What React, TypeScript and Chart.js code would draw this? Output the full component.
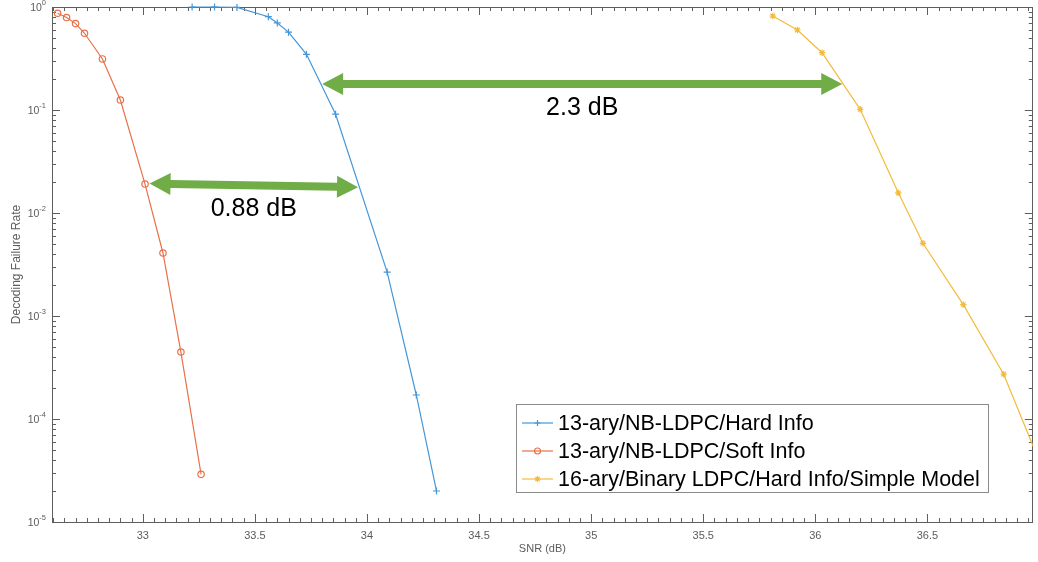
import React, { useEffect, useRef } from 'react';
import { Chart, registerables } from 'chart.js';

Chart.register(...registerables);

// ---- data ----
const seriesLabels = [
  '13-ary/NB-LDPC/Hard Info',
  '13-ary/NB-LDPC/Soft Info',
  '16-ary/Binary LDPC/Hard Info/Simple Model',
];
const hardSnr = [33.22, 33.32, 33.42, 33.56, 33.6, 33.65, 33.73, 33.86, 34.09, 34.22, 34.31];
const hardRate = [1.0, 1.0, 0.99, 0.805, 0.7, 0.57, 0.347, 0.091, 0.00267, 0.000171, 0.00002];
const softSnr = [32.62, 32.66, 32.7, 32.74, 32.82, 32.9, 33.01, 33.09, 33.17, 33.26];
const softRate = [0.87, 0.79, 0.69, 0.556, 0.313, 0.125, 0.0191, 0.00409, 0.000447, 0.000029];
const binSnr = [35.81, 35.92, 36.03, 36.2, 36.37, 36.48, 36.66, 36.84, 37.02];
const binRate = [0.818, 0.598, 0.36, 0.1016, 0.0157, 0.00508, 0.00129, 0.000272, 0.00003];

const xTickValues = [33, 33.5, 34, 34.5, 35, 35.5, 36, 36.5];
const xTickLabels = ['33', '33.5', '34', '34.5', '35', '35.5', '36', '36.5'];
const yTickExponents = [0, -1, -2, -3, -4, -5];
const xMinorStep = 0.05;
const xRange = [32.595, 36.97];
const yRange = [1e-5, 1];

const xTitle = 'SNR (dB)';
const yTitle = 'Decoding Failure Rate';

// gap annotations (in data units)
const gapSnrFrom = [33.8, 33.03];
const gapSnrTo = [36.12, 33.96];
const gapRateFrom = [0.179, 0.0193];
const gapRateTo = [0.179, 0.0178];
const gapLabels = ['2.3 dB', '0.88 dB'];

const seriesColors = ['#4596d8', '#e8714a', '#f3bb3c'];
const seriesMarkers = ['cross', 'circle', 'star'];

const AXIS_COLOR = '#5e5e5e';
const LABEL_COLOR = '#5c5c5c';
const ARROW_COLOR = '#70AD47';
const FONT = '"Liberation Sans", Arial, Helvetica, sans-serif';

function drawMarker(ctx: CanvasRenderingContext2D, style: string, x: number, y: number, r: number, color: string) {
  ctx.save();
  ctx.strokeStyle = color;
  ctx.lineWidth = 1.2;
  ctx.beginPath();
  if (style === 'cross') {
    ctx.moveTo(x - r, y); ctx.lineTo(x + r, y);
    ctx.moveTo(x, y - r); ctx.lineTo(x, y + r);
  } else if (style === 'circle') {
    ctx.arc(x, y, r, 0, Math.PI * 2);
  } else {
    const d = r * 0.707;
    ctx.moveTo(x - r, y); ctx.lineTo(x + r, y);
    ctx.moveTo(x, y - r); ctx.lineTo(x, y + r);
    ctx.moveTo(x - d, y - d); ctx.lineTo(x + d, y + d);
    ctx.moveTo(x - d, y + d); ctx.lineTo(x + d, y - d);
  }
  ctx.stroke();
  ctx.restore();
}

function drawDoubleArrow(ctx: CanvasRenderingContext2D, x1: number, y1: number, x2: number, y2: number) {
  const dx = x2 - x1, dy = y2 - y1;
  const len = Math.hypot(dx, dy);
  const ux = dx / len, uy = dy / len;
  const nx = -uy, ny = ux;
  const head = 21, hw = 11, sw = 4;
  const pts: [number, number][] = [
    [x1, y1],
    [x1 + ux * head + nx * hw, y1 + uy * head + ny * hw],
    [x1 + ux * head + nx * sw, y1 + uy * head + ny * sw],
    [x2 - ux * head + nx * sw, y2 - uy * head + ny * sw],
    [x2 - ux * head + nx * hw, y2 - uy * head + ny * hw],
    [x2, y2],
    [x2 - ux * head - nx * hw, y2 - uy * head - ny * hw],
    [x2 - ux * head - nx * sw, y2 - uy * head - ny * sw],
    [x1 + ux * head - nx * sw, y1 + uy * head - ny * sw],
    [x1 + ux * head - nx * hw, y1 + uy * head - ny * hw],
  ];
  ctx.save();
  ctx.fillStyle = ARROW_COLOR;
  ctx.beginPath();
  pts.forEach(([px, py], i) => (i === 0 ? ctx.moveTo(px, py) : ctx.lineTo(px, py)));
  ctx.closePath();
  ctx.fill();
  ctx.restore();
}

const axesPlugin = {
  id: 'matlabAxes',
  beforeDatasetsDraw(chart: any) {
    const { ctx, chartArea } = chart;
    const { left, right, top, bottom } = chartArea;
    const xs = chart.scales.x;
    const ys = chart.scales.y;
    ctx.save();
    ctx.strokeStyle = AXIS_COLOR;
    ctx.lineWidth = 1;
    // box
    ctx.strokeRect(Math.round(left) + 0.5, Math.round(top) + 0.5, Math.round(right - left) - 1, Math.round(bottom - top));
    ctx.beginPath();
    const majorLen = 8, minorLen = 4;
    // x ticks
    const nMinor = Math.round((xRange[1] - xRange[0]) / xMinorStep) + 2;
    const start = Math.ceil(xRange[0] / xMinorStep) * xMinorStep;
    for (let i = 0; i < nMinor; i++) {
      const v = +(start + i * xMinorStep).toFixed(4);
      if (v > xRange[1]) break;
      const isMajor = Math.abs(v * 2 - Math.round(v * 2)) < 1e-6;
      const L = isMajor ? majorLen : minorLen;
      const px = Math.round(xs.getPixelForValue(v)) + 0.5;
      ctx.moveTo(px, bottom); ctx.lineTo(px, bottom - L);
      ctx.moveTo(px, top); ctx.lineTo(px, top + L);
    }
    // y ticks
    for (let e = 0; e >= -5; e--) {
      for (let m = 1; m <= 9; m++) {
        const v = m * Math.pow(10, e - 1);
        if (v < yRange[0] - 1e-12 || v > yRange[1] + 1e-12) continue;
        const L = m === 1 ? majorLen : minorLen;
        const py = Math.round(ys.getPixelForValue(v)) + 0.5;
        ctx.moveTo(left, py); ctx.lineTo(left + L, py);
        ctx.moveTo(right, py); ctx.lineTo(right - L, py);
      }
    }
    const p0 = Math.round(ys.getPixelForValue(1)) + 0.5;
    ctx.moveTo(left, p0); ctx.lineTo(left + majorLen, p0);
    ctx.stroke();

    // x tick labels
    ctx.fillStyle = LABEL_COLOR;
    ctx.font = `11px ${FONT}`;
    ctx.textAlign = 'center';
    ctx.textBaseline = 'middle';
    xTickValues.forEach((v, i) => {
      ctx.fillText(xTickLabels[i], xs.getPixelForValue(v), bottom + 14);
    });
    // y tick labels
    yTickExponents.forEach((e) => {
      const py = ys.getPixelForValue(Math.pow(10, e));
      const expStr = String(e);
      ctx.font = `7.5px ${FONT}`;
      const w = ctx.measureText(expStr).width;
      const xe = left - 6 - w;
      ctx.textAlign = 'left';
      ctx.textBaseline = 'middle';
      ctx.fillText(expStr, xe, py - 4);
      ctx.font = `10.5px ${FONT}`;
      ctx.textAlign = 'right';
      ctx.fillText('10', xe, py + 1);
    });
    // axis titles
    ctx.font = `11px ${FONT}`;
    ctx.textAlign = 'center';
    ctx.textBaseline = 'middle';
    ctx.fillText(xTitle, (left + right) / 2, bottom + 27);
    ctx.font = `12px ${FONT}`;
    ctx.save();
    ctx.translate(17, (top + bottom) / 2);
    ctx.rotate(-Math.PI / 2);
    ctx.fillText(yTitle, 0, 0);
    ctx.restore();
    ctx.restore();
  },
  afterDatasetsDraw(chart: any) {
    const { ctx } = chart;
    const xs = chart.scales.x;
    const ys = chart.scales.y;
    // gap arrows
    gapLabels.forEach((lab, i) => {
      const x1 = xs.getPixelForValue(gapSnrFrom[i]);
      const x2 = xs.getPixelForValue(gapSnrTo[i]);
      const y1 = ys.getPixelForValue(gapRateFrom[i]);
      const y2 = ys.getPixelForValue(gapRateTo[i]);
      drawDoubleArrow(ctx, x1, y1, x2, y2);
      ctx.save();
      ctx.fillStyle = '#000';
      ctx.font = `25px ${FONT}`;
      ctx.textAlign = 'center';
      ctx.textBaseline = 'middle';
      ctx.fillText(lab, (x1 + x2) / 2, (y1 + y2) / 2 + 24);
      ctx.restore();
    });
    // legend
    const bx = 516, by = 404, bw = 472, bh = 88;
    ctx.save();
    ctx.fillStyle = '#fff';
    ctx.fillRect(bx, by, bw, bh);
    ctx.strokeStyle = '#8a8a8a';
    ctx.lineWidth = 1;
    ctx.strokeRect(bx + 0.5, by + 0.5, bw, bh);
    chart.data.datasets.forEach((ds: any, i: number) => {
      const cy = by + 19 + i * 28;
      ctx.strokeStyle = ds.borderColor;
      ctx.lineWidth = 1.2;
      ctx.beginPath();
      ctx.moveTo(bx + 6, cy); ctx.lineTo(bx + 37, cy);
      ctx.stroke();
      drawMarker(ctx, seriesMarkers[i], bx + 21.5, cy, 3, ds.borderColor);
      ctx.fillStyle = '#000';
      ctx.font = `21.5px ${FONT}`;
      ctx.textAlign = 'left';
      ctx.textBaseline = 'middle';
      ctx.fillText(ds.label, bx + 42, cy + 1);
    });
    ctx.restore();
  },
};

export default function App() {
  const ref = useRef<HTMLCanvasElement | null>(null);
  useEffect(() => {
    document.body.style.margin = '0';
    document.body.style.overflow = 'hidden';
    const mk = (snr: number[], rate: number[]) => snr.map((x, i) => ({ x, y: rate[i] }));
    const all = [mk(hardSnr, hardRate), mk(softSnr, softRate), mk(binSnr, binRate)];
    const chart = new Chart(ref.current as HTMLCanvasElement, {
      type: 'line',
      data: {
        datasets: all.map((d, i) => ({
          label: seriesLabels[i],
          data: d,
          borderColor: seriesColors[i],
          backgroundColor: 'rgba(0,0,0,0)',
          borderWidth: 1.2,
          pointStyle: seriesMarkers[i] as any,
          pointRadius: i === 0 ? 3.5 : 3.2,
          pointBorderWidth: 1.2,
          pointBorderColor: seriesColors[i],
          pointBackgroundColor: 'rgba(0,0,0,0)',
          tension: 0,
          fill: false,
          clip: { left: 8, top: 8, right: 0, bottom: 8 } as any,
        })),
      },
      options: {
        animation: false,
        responsive: false,
        devicePixelRatio: 1,
        events: [],
        layout: { padding: { left: 52, top: 7, right: 2, bottom: 40 } },
        plugins: { legend: { display: false }, tooltip: { enabled: false }, title: { display: false } },
        scales: {
          x: { type: 'linear', display: false, min: xRange[0], max: xRange[1] },
          y: { type: 'logarithmic', display: false, min: yRange[0], max: yRange[1] },
        },
      },
      plugins: [axesPlugin],
    });
    return () => chart.destroy();
  }, []);
  return (
    <div style={{ position: 'fixed', left: 0, top: 0, width: 1038, height: 562, background: '#fff' }}>
      <canvas ref={ref} width={1038} height={562} />
    </div>
  );
}
